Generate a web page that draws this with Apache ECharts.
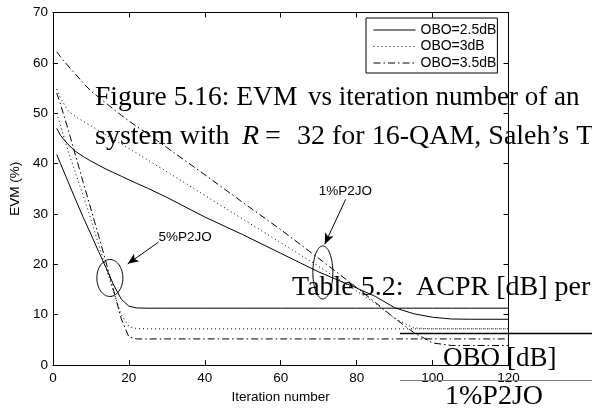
<!DOCTYPE html>
<html><head><meta charset="utf-8">
<script src="https://cdn.jsdelivr.net/npm/echarts@6/dist/echarts.min.js"></script>
<style>html,body{margin:0;padding:0;background:#fff}#c{width:592px;height:409px}</style>
</head><body><div id="c"></div>
<script>
// ---- data ----
const iterations = [1,2,4,6,8,10,12,14,16,18,20,22,25,30,40,50,60,70,80,85,90,95,100,105,110,120];
// OBO = 2.5 dB
const obo25_p5 = [41.8,40.0,36.4,32.8,29.3,26.0,22.6,19.3,15.9,13.1,11.7,11.35,11.3,11.3,11.3,11.3,11.3,11.3,11.3,11.3,11.3,11.3,11.3,11.3,11.3,11.3];
const obo25_p1 = [47.0,45.6,43.8,42.4,41.4,40.5,39.7,38.9,38.2,37.5,36.8,36.1,35.1,33.3,29.4,25.9,22.2,18.5,15.3,13.6,11.4,10.2,9.5,9.15,9.1,9.1];
// OBO = 3 dB
const obo3_p5 = [50.0,47.5,42.5,38.0,33.6,29.0,24.0,19.2,14.5,10.0,7.7,7.25,7.2,7.2,7.2,7.2,7.2,7.2,7.2,7.2,7.2,7.2,7.2,7.2,7.2,7.2];
const obo3_p1 = [54.8,53.0,50.5,49.3,48.4,47.5,46.6,45.7,44.8,43.9,43.0,42.1,40.7,38.4,33.7,29.0,24.3,19.6,14.7,12.2,9.3,7.4,7.2,7.2,7.2,7.2];
// OBO = 3.5 dB
const obo35_p5 = [54.0,51.8,46.8,41.5,36.2,31.0,25.8,20.4,14.8,9.2,5.6,5.2,5.2,5.2,5.2,5.2,5.2,5.2,5.2,5.2,5.2,5.2,5.2,5.2,5.2,5.2];
const obo35_p1 = [62.2,61.2,59.4,57.7,56.0,54.4,53.2,52.0,50.8,49.6,48.5,47.4,45.9,43.2,37.8,32.3,26.9,21.2,15.4,12.4,9.3,6.5,4.4,3.9,3.9,3.9];

const legendNames = ['OBO=2.5dB','OBO=3dB','OBO=3.5dB'];
const xTicks = {min:0, max:120, interval:20};
const yTicks = {min:0, max:70, interval:10};

// annotations (data coordinates)
const annotLabels = ['5%P2JO','1%P2JO'];
const annotTextAt = [[27.8,25.4],[70.0,34.5]];
const arrowFrom = [[27.8,24.4],[77.1,32.9]];
const arrowTo = [[19.7,20.1],[71.6,24.0]];
const ellipseAt = [[15.0,17.3],[71.1,18.4]];
const ellipseR = [[13,18.5],[10,26.5]];

const SANS = "'Liberation Sans', Arial, sans-serif";
const SERIF = "'Liberation Serif', 'Times New Roman', serif";

const styles = {
  solid: {type:'solid'},
  dotted: {type:[1,3]},
  dashdot: {type:[7,3,1.5,3]}
};
function mk(name, arr, st, extra){
  return Object.assign({
    type:'line', name: name, symbol:'none', showSymbol:false, silent:true,
    data: iterations.map((x,i)=>[x, arr[i]]),
    lineStyle: Object.assign({color:'#000', width:1}, st),
    itemStyle:{color:'#000'}
  }, extra||{});
}

const chart = echarts.init(document.getElementById('c'), null, {renderer:'canvas'});
const axisCommon = {
  axisLine:{show:true, onZero:false, lineStyle:{color:'#000', width:1}},
  axisTick:{show:true, inside:true, length:5, lineStyle:{color:'#000', width:1}},
  splitLine:{show:false}
};
chart.setOption({
  animation:false,
  backgroundColor:'#fff',
  grid:{left:48.5, right:83.5, top:12.5, bottom:42.5, show:false},
  xAxis:[
    Object.assign({type:'value', position:'bottom', min:xTicks.min, max:xTicks.max, interval:xTicks.interval,
      axisLabel:{color:'#000', fontSize:13.5, fontFamily:SANS, margin:6},
      name:'Iteration number', nameLocation:'middle', nameGap:22,
      nameTextStyle:{color:'#000', fontSize:13.5, fontFamily:SANS}}, axisCommon),
    Object.assign({type:'value', position:'top', min:xTicks.min, max:xTicks.max, interval:xTicks.interval,
      axisLabel:{show:false}}, axisCommon)
  ],
  yAxis:[
    Object.assign({type:'value', position:'left', min:yTicks.min, max:yTicks.max, interval:yTicks.interval,
      axisLabel:{color:'#000', fontSize:13.5, fontFamily:SANS, margin:5},
      name:'EVM (%)', nameLocation:'middle', nameGap:27,
      nameTextStyle:{color:'#000', fontSize:13.5, fontFamily:SANS}}, axisCommon),
    Object.assign({type:'value', position:'right', min:yTicks.min, max:yTicks.max, interval:yTicks.interval,
      axisLabel:{show:false}}, axisCommon)
  ],
  legend:{
    data: legendNames, orient:'vertical', left:366, top:18,
    padding:[5,1,3,7], itemWidth:42, itemHeight:14, itemGap:2.5,
    backgroundColor:'#fff', borderColor:'#000', borderWidth:1, borderRadius:0,
    itemStyle:{opacity:0, borderWidth:0},
    lineStyle:{width:1, color:'#000'},
    textStyle:{color:'#000', fontSize:14, fontFamily:SANS, lineHeight:14, padding:[0,0,0,0]},
    selectedMode:false
  },
  series:[
    mk(legendNames[0], obo25_p5, styles.solid, {markLine:{
      silent:true, animation:false, symbol:['none','arrow'], symbolSize:[7,11],
      lineStyle:{color:'#000', width:1, type:'solid'}, label:{show:false},
      data: arrowFrom.map((f,i)=>[{coord:f},{coord:arrowTo[i]}])
    }}),
    mk(legendNames[0], obo25_p1, styles.solid),
    mk(legendNames[1], obo3_p5, styles.dotted),
    mk(legendNames[1], obo3_p1, styles.dotted),
    mk(legendNames[2], obo35_p5, styles.dashdot),
    mk(legendNames[2], obo35_p1, styles.dashdot)
  ]
});

// annotation graphics positioned from data coordinates
const g = [];
ellipseAt.forEach((c,i)=>{
  const p = chart.convertToPixel({gridIndex:0}, c);
  const pts = [];
  for(let k=0;k<72;k++){
    const t = k/72*Math.PI*2;
    pts.push([p[0]+ellipseR[i][0]*Math.cos(t), p[1]+ellipseR[i][1]*Math.sin(t)]);
  }
  g.push({type:'polygon', silent:true, shape:{points:pts}, style:{fill:null, stroke:'#000', lineWidth:1}, z:50});
});
annotLabels.forEach((t,i)=>{
  const p = chart.convertToPixel({gridIndex:0}, annotTextAt[i]);
  g.push({type:'text', silent:true, x:p[0], y:p[1], style:{text:t, fill:'#000', font:'13.5px '+SANS, textAlign:'left', textVerticalAlign:'middle'}, z:50});
});
// overlapping document text (caption and table fragments)
const docText = [
  ['Figure 5.16: EVM', 95, 107, false, 27.5],
  ['vs iteration number of an', 308, 107, false, 27],
  ['system with', 95, 146, false, 28],
  ['R', 242, 146, true, 28],
  ['=', 265, 146, false, 28],
  ['32 for 16-QAM, Saleh\u2019s T', 297, 146, false, 28],
  ['Table 5.2:', 292, 297, false, 28],
  ['ACPR [dB] per', 416, 297, false, 28],
  ['OBO', 443, 368, false, 27],
  ['[dB]', 507, 368, false, 27],
  ['1%P2JO', 445, 406, false, 28]
];
docText.forEach(d=>{
  g.push({type:'text', silent:true, x:d[1], y:d[2]-9.5, style:{text:d[0], fill:'#000',
    font:(d[3]?'italic ':'')+d[4]+'px '+SERIF, textAlign:'left', textVerticalAlign:'middle'}, z:60});
});
g.push({type:'line', silent:true, shape:{x1:400,y1:333.5,x2:592,y2:333.5}, style:{stroke:'#000', lineWidth:1.6}, z:40});
g.push({type:'line', silent:true, shape:{x1:400,y1:380.5,x2:592,y2:380.5}, style:{stroke:'#808080', lineWidth:1}, z:40});
chart.setOption({graphic:g});
</script>
</body></html>
